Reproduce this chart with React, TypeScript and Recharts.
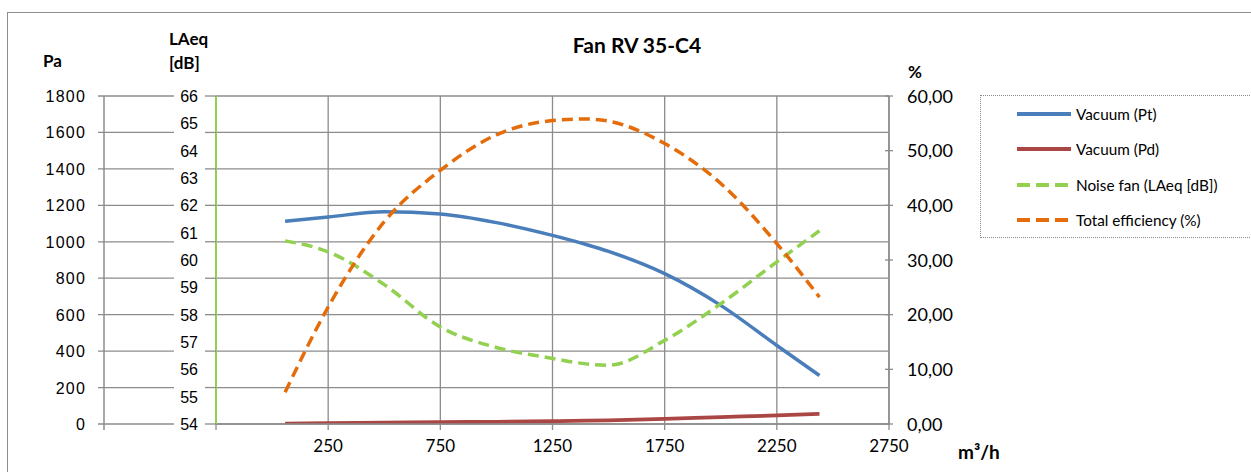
import { ComposedChart, Line, XAxis, YAxis, CartesianGrid } from "recharts";

// airflow in m³/h
const FLOW = [58, 250, 500, 750, 1000, 1250, 1400, 1500, 1750, 2000, 2250, 2440];
const VACUUM_PT = [1113, 1136, 1165, 1152, 1105, 1035, 985, 947, 825, 651, 431, 266];
const VACUUM_PD = [2, 4, 7, 10, 12, 15, 18, 20, 28, 38, 47, 56];
const NOISE_DB = [60.7, 60.3, 59.1, 57.55, 56.8, 56.4, 56.2, 56.15, 57.06, 58.4, 59.93, 61.07];
const EFFICIENCY = [5.8, 21.4, 37.0, 46.4, 52.9, 55.5, 55.8, 55.4, 51.3, 44.0, 33.0, 23.2];

const X_TICKS = [-250, 250, 750, 1250, 1750, 2250, 2750];
const PA_TICKS = [0, 200, 400, 600, 800, 1000, 1200, 1400, 1600, 1800];
const DB_TICKS = [54, 55, 56, 57, 58, 59, 60, 61, 62, 63, 64, 65, 66];
const PCT_TICKS = [0, 10, 20, 30, 40, 50, 60];

const SERIES = [
  { key: "pt", name: "Vacuum (Pt)", color: "#4A7EBB", axis: "pa", dashed: false, width: 3.5 },
  { key: "pd", name: "Vacuum (Pd)", color: "#AA4643", axis: "pa", dashed: false, width: 3.8 },
  { key: "noise", name: "Noise fan (LAeq [dB])", color: "#92D050", axis: "db", dashed: true, width: 3.5 },
  { key: "eff", name: "Total efficiency (%)", color: "#E46C0A", axis: "pct", dashed: true, width: 3.5 },
];

const rows = FLOW.map((q, i) => ({
  q,
  pt: VACUUM_PT[i],
  pd: VACUUM_PD[i],
  noise: NOISE_DB[i],
  eff: EFFICIENCY[i],
}));

const GRID = "#8c8c8c";
const CALIBRI = "Lato, 'Open Sans', sans-serif";
const ARIAL = "'Liberation Sans', Arial, sans-serif";

function PaTick({ x, y, payload }: any) {
  return (
    <g>
      <line x1={x - 6} x2={x + 70} y1={y} y2={y} stroke={GRID} strokeWidth={1.3} />
      <line x1={x + 101} x2={x + 112} y1={y} y2={y} stroke={GRID} strokeWidth={1.3} />
      {payload.value === 0 && (
        <line x1={x} x2={x} y1={y} y2={y + 6} stroke={GRID} strokeWidth={1.5} />
      )}
      <text x={x - 18} y={y + 6} textAnchor="end" fontFamily={ARIAL} fontSize={16} letterSpacing={1.2} fill="#000">
        {payload.value}
      </text>
    </g>
  );
}

function DbTick({ x, y, payload }: any) {
  return (
    <text x={x - 18} y={y + 6} textAnchor="end" fontFamily={ARIAL} fontSize={16} fill="#000">
      {payload.value}
    </text>
  );
}

function PctTick({ x, y, payload }: any) {
  return (
    <g>
      <line x1={x - 4} x2={x + 4} y1={y} y2={y} stroke={GRID} strokeWidth={1.3} />
      <text x={x + 18} y={y + 6.5} textAnchor="start" fontFamily={CALIBRI} fontSize={18} fill="#000">
        {payload.value.toFixed(2).replace(".", ",")}
      </text>
    </g>
  );
}

function FlowTick({ x, y, payload }: any) {
  if (payload.value < 0) return <g />;
  return (
    <text x={x} y={y + 22} textAnchor="middle" fontFamily={CALIBRI} fontSize={17} fill="#000">
      {payload.value}
    </text>
  );
}

const boldText = (left: number, top: number, size: number, text: string) => (
  <div
    style={{
      position: "absolute",
      left,
      top,
      fontFamily: CALIBRI,
      fontWeight: 700,
      fontSize: size,
      lineHeight: `${size + 4}px`,
      whiteSpace: "nowrap",
    }}
  >
    {text}
  </div>
);

export default function App() {
  return (
    <div
      style={{
        position: "absolute",
        left: 0,
        top: 0,
        width: 1251,
        height: 472,
        overflow: "hidden",
        background: "#fff",
      }}
    >
      <div
        style={{
          position: "absolute",
          left: 7,
          top: 12,
          width: 1300,
          height: 520,
          border: "1.5px solid #8e8e8e",
        }}
      />
      <div style={{ position: "absolute", left: 0, top: 0 }}>
        <ComposedChart
          width={1251}
          height={472}
          data={rows}
          margin={{ top: 96, right: 282, bottom: 8, left: 44 }}
        >
          <CartesianGrid yAxisId="pa" stroke={GRID} strokeWidth={1.3} />
          <XAxis
            dataKey="q"
            type="number"
            domain={[-250, 2750]}
            ticks={X_TICKS}
            interval={0}
            allowDataOverflow
            height={40}
            tickSize={6}
            tickMargin={0}
            tickLine={{ stroke: GRID, strokeWidth: 1.3 }}
            axisLine={{ stroke: GRID, strokeWidth: 1.3 }}
            tick={<FlowTick />}
          />
          <YAxis
            yAxisId="db"
            orientation="left"
            type="number"
            domain={[54, 66]}
            ticks={DB_TICKS}
            interval={0}
            allowDataOverflow
            width={112}
            tickSize={0}
            tickMargin={0}
            tickLine={false}
            axisLine={{ stroke: "#92D050", strokeWidth: 2 }}
            tick={<DbTick />}
          />
          <YAxis
            yAxisId="pa"
            orientation="left"
            type="number"
            domain={[0, 1800]}
            ticks={PA_TICKS}
            interval={0}
            allowDataOverflow
            width={60}
            tickSize={0}
            tickMargin={0}
            tickLine={false}
            axisLine={{ stroke: GRID, strokeWidth: 1.5 }}
            tick={<PaTick />}
          />
          <YAxis
            yAxisId="pct"
            orientation="right"
            type="number"
            domain={[0, 60]}
            ticks={PCT_TICKS}
            interval={0}
            allowDataOverflow
            width={80}
            tickSize={0}
            tickMargin={0}
            tickLine={false}
            axisLine={{ stroke: GRID, strokeWidth: 1.5 }}
            tick={<PctTick />}
          />
          {SERIES.map((s) => (
            <Line
              key={s.key}
              yAxisId={s.axis}
              dataKey={s.key}
              name={s.name}
              type="monotone"
              stroke={s.color}
              strokeWidth={s.width}
              strokeDasharray={s.dashed ? "11 6" : undefined}
              dot={false}
              activeDot={false}
              isAnimationActive={false}
            />
          ))}
        </ComposedChart>
      </div>

      <div
        style={{
          position: "absolute",
          left: 537,
          top: 32,
          width: 200,
          textAlign: "center",
          fontFamily: CALIBRI,
          fontWeight: 700,
          fontSize: 21,
          lineHeight: "26px",
        }}
      >
        Fan RV 35-C4
      </div>
      {boldText(43, 50, 17, "Pa")}
      {boldText(169, 28, 17, "LAeq")}
      {boldText(169, 52, 17, "[dB]")}
      {boldText(908, 61, 17, "%")}
      {boldText(958, 440, 19, "m³/h")}

      <div
        style={{
          position: "absolute",
          left: 980,
          top: 95,
          width: 320,
          height: 143,
          border: "1px dotted #8c8c8c",
          boxSizing: "border-box",
        }}
      >
        {SERIES.map((s, i) => (
          <div
            key={s.key}
            style={{
              position: "absolute",
              left: 35,
              top: 18 + i * 35.3 - 10,
              height: 20,
              display: "flex",
              alignItems: "center",
              whiteSpace: "nowrap",
            }}
          >
            <svg width={56} height={20} style={{ display: "block" }}>
              <line
                x1={1}
                x2={55}
                y1={10}
                y2={10}
                stroke={s.color}
                strokeWidth={4}
                strokeDasharray={s.dashed ? "13 6" : undefined}
              />
            </svg>
            <span
              style={{
                marginLeft: 4,
                fontFamily: CALIBRI,
                fontSize: 15.3,
                color: "#000",
              }}
            >
              {s.name}
            </span>
          </div>
        ))}
      </div>
    </div>
  );
}
